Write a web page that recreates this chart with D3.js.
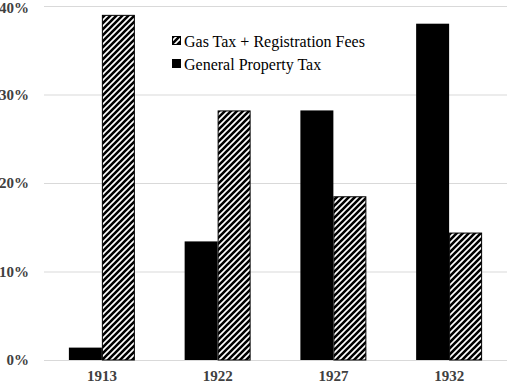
<!DOCTYPE html>
<html>
<head>
<meta charset="utf-8">
<script src="https://cdn.jsdelivr.net/npm/d3@7"></script>
<style>
body{margin:0;background:#fff;}
svg{display:block;}
</style>
</head>
<body>
<svg id="chart" width="507" height="384"></svg>
<script>
const categories = ["1913", "1922", "1927", "1932"];
const seriesNames = ["General Property Tax", "Gas Tax + Registration Fees"];
const propertyTax = [1.4, 13.4, 28.2, 38.0];
const gasTax = [39.0, 28.2, 18.5, 14.4];
const yTicks = [0, 10, 20, 30, 40];

const FONT = '"Liberation Serif"';
const svg = d3.select("#chart");
const x = d3.scaleBand().domain(categories).range([44, 507]).paddingInner(0.43).paddingOuter(0.215);
const y = d3.scaleLinear().domain([0, 40]).range([360, 6]);
const x1 = d3.scaleBand().domain(seriesNames).range([0, x.bandwidth()]);

const defs = svg.append("defs");
const pat = defs.append("pattern").attr("id", "hatch").attr("patternUnits", "userSpaceOnUse")
  .attr("width", 6).attr("height", 6);
pat.append("rect").attr("width", 6).attr("height", 6).attr("fill", "#fff");
pat.append("path").attr("d", "M0,6 L6,0 M-1.5,1.5 L1.5,-1.5 M4.5,7.5 L7.5,4.5")
  .attr("stroke", "#000").attr("stroke-width", 2.6);

// gridlines
svg.append("g").selectAll("line").data(yTicks).join("line")
  .attr("x1", 44).attr("x2", 507)
  .attr("y1", d => y(d) + 0.5).attr("y2", d => y(d) + 0.5)
  .attr("stroke", "#d9d9d9").attr("stroke-width", 1);

// y labels
svg.append("g").selectAll("text").data(yTicks).join("text")
  .attr("x", 29).attr("y", d => Math.max(y(d), 8)).attr("dy", "0.35em")
  .attr("text-anchor", "end")
  .style("font-family", FONT)
  .style("font-weight", "bold").style("font-size", "15px").attr("fill", "#404040")
  .text(d => d + "%");

// x labels
svg.append("g").selectAll("text").data(categories).join("text")
  .attr("x", d => x(d) + x.bandwidth() / 2).attr("y", 381)
  .attr("text-anchor", "middle")
  .style("font-family", FONT)
  .style("font-weight", "bold").style("font-size", "15px").attr("fill", "#404040")
  .text(d => d);

// bars
const g = svg.append("g");
g.selectAll("rect.prop").data(categories).join("rect").attr("class", "prop")
  .attr("x", (d) => x(d) + x1(seriesNames[0]))
  .attr("width", x1.bandwidth())
  .attr("y", (d, i) => y(propertyTax[i]))
  .attr("height", (d, i) => y(0) - y(propertyTax[i]))
  .attr("fill", "#000");
g.selectAll("rect.gas").data(categories).join("rect").attr("class", "gas")
  .attr("x", (d) => x(d) + x1(seriesNames[1]) + 0.5)
  .attr("width", x1.bandwidth() - 1)
  .attr("y", (d, i) => y(gasTax[i]) + 0.5)
  .attr("height", (d, i) => y(0) - y(gasTax[i]) - 0.5)
  .attr("fill", "url(#hatch)").attr("stroke", "#000").attr("stroke-width", 1);

// legend
const legendItems = [
  {name: "Gas Tax + Registration Fees", fill: "url(#hatch)"},
  {name: "General Property Tax", fill: "#000"}
];
const lg = svg.append("g");
legendItems.forEach((it, i) => {
  const cy = 41 + i * 23;
  lg.append("rect").attr("x", 172.5).attr("y", cy - 4.5).attr("width", 8).attr("height", 8)
    .attr("fill", it.fill).attr("stroke", "#000").attr("stroke-width", 1);
  lg.append("text").attr("x", 184).attr("y", cy).attr("dy", "0.35em")
    .style("font-family", FONT)
    .style("font-size", "16px").attr("fill", "#000")
    .text(it.name);
});
</script>
</body>
</html>
